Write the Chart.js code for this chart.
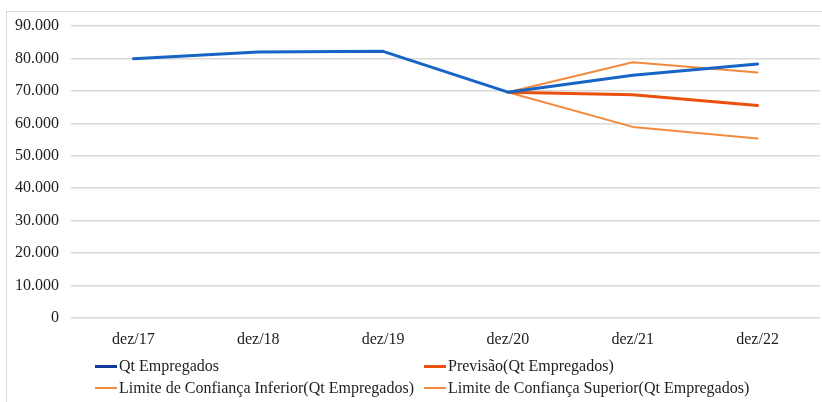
<!DOCTYPE html>
<html lang="pt-BR">
<head>
<meta charset="utf-8">
<script src="https://cdn.jsdelivr.net/npm/chart.js@4.4.1/dist/chart.umd.min.js"></script>
<style>
  html, body { margin: 0; padding: 0; background: #fff; overflow: hidden; }
  #wrap { position: relative; width: 822px; height: 402px; }
  #frame { position: absolute; left: 6px; top: 11px; width: 840px; height: 420px;
           border: 1.5px solid #d9d9d9; box-sizing: border-box; }
  canvas { position: absolute; left: 0; top: 0; }
  #legend { position: absolute; left: 0; top: 0; width: 822px; height: 402px; pointer-events: none;
            font-family: "Liberation Serif", "Times New Roman", serif; font-size: 16px; color: #1e1e1e; }
  .item { position: absolute; display: flex; align-items: center; white-space: nowrap; height: 18px; }
  .swatch { display: inline-block; width: 22px; margin-right: 2px; }
</style>
</head>
<body>
<div id="wrap">
  <div id="frame"></div>
  <canvas id="chart" width="822" height="402"></canvas>
  <div id="legend"></div>
</div>
<script>
// Categories (end of each year)
const categories = ['dez/17', 'dez/18', 'dez/19', 'dez/20', 'dez/21', 'dez/22'];

// Number of employees, observed
const qtEmpregados = [79900, 82000, 82200, 69600, 74800, 78300];
// Forecast and its confidence bounds (start at the last observed point)
const previsao     = [null, null, null, 69600, 68800, 65500];
const limInferior  = [null, null, null, 69600, 58900, 55300];
const limSuperior  = [null, null, null, 69600, 78800, 75700];

// Y axis tick values
const yTicks = [0, 10000, 20000, 30000, 40000, 50000, 60000, 70000, 80000, 90000];

const seriesNames = [
  'Qt Empregados',
  'Previsão(Qt Empregados)',
  'Limite de Confiança Inferior(Qt Empregados)',
  'Limite de Confiança Superior(Qt Empregados)'
];

const FONT = { family: '"Liberation Serif", "Times New Roman", serif', size: 16 };
const TEXT = '#1e1e1e';

function fmtBR(v) {
  return String(Math.round(v)).replace(/\B(?=(\d{3})+(?!\d))/g, '.');
}

const datasets = [
  { label: seriesNames[0], data: qtEmpregados, borderColor: '#1763c6', borderWidth: 3, legendColor: '#13389a', legendWidth: 3 },
  { label: seriesNames[1], data: previsao,     borderColor: '#e8520c', borderWidth: 3, legendColor: '#e8520c', legendWidth: 3 },
  { label: seriesNames[2], data: limInferior,  borderColor: '#f28a3e', borderWidth: 2, legendColor: '#f28a3e', legendWidth: 2 },
  { label: seriesNames[3], data: limSuperior,  borderColor: '#f28a3e', borderWidth: 2, legendColor: '#f28a3e', legendWidth: 2 }
].map(d => Object.assign({
  pointRadius: 0, pointHoverRadius: 0, tension: 0, fill: false, spanGaps: false,
  borderCapStyle: 'round', borderJoinStyle: 'round'
}, d));

new Chart(document.getElementById('chart'), {
  type: 'line',
  data: { labels: categories, datasets },
  options: {
    responsive: false,
    animation: false,
    devicePixelRatio: 1,
    layout: { padding: { top: 26, right: 2, bottom: 54, left: 0 } },
    plugins: { legend: { display: false }, tooltip: { enabled: false }, title: { display: false } },
    scales: {
      x: {
        offset: true,
        grid: { display: false, drawTicks: false },
        border: { display: false },
        ticks: { font: FONT, color: TEXT, padding: 12, maxRotation: 0 },
        afterFit: s => { s.height = 30; }
      },
      y: {
        min: 0, max: 90000,
        afterBuildTicks: s => { s.ticks = yTicks.map(v => ({ value: v })); },
        grid: { color: '#d9d9d9', lineWidth: 1.5, drawTicks: false },
        border: { display: false },
        ticks: { font: FONT, color: TEXT, padding: 12, callback: v => fmtBR(v) },
        afterFit: s => { s.width = 71; }
      }
    }
  }
});

// Two-column legend below the plot
const legendEl = document.getElementById('legend');
const slots = [
  { x: 95,  y: 357 }, { x: 424, y: 357 },
  { x: 95,  y: 379 }, { x: 424, y: 379 }
];
datasets.forEach((d, i) => {
  const it = document.createElement('div');
  it.className = 'item';
  it.style.left = slots[i].x + 'px';
  it.style.top = slots[i].y + 'px';
  const sw = document.createElement('span');
  sw.className = 'swatch';
  sw.style.height = d.legendWidth + 'px';
  sw.style.background = d.legendColor;
  const tx = document.createElement('span');
  tx.textContent = d.label;
  it.appendChild(sw);
  it.appendChild(tx);
  legendEl.appendChild(it);
});
</script>
</body>
</html>
